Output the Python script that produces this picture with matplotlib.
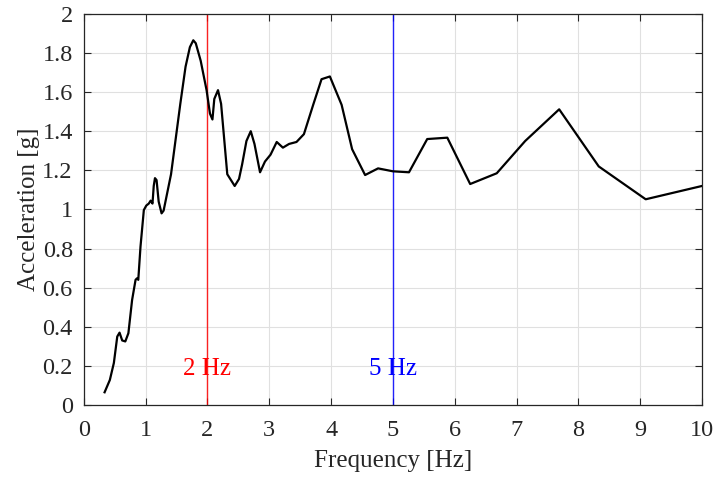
import matplotlib.pyplot as plt

plt.rcParams['font.family'] = ['Liberation Serif', 'DejaVu Serif']

freq = [0.335, 0.42, 0.485, 0.54, 0.577, 0.62, 0.67, 0.72, 0.78, 0.836, 0.86, 0.88,
        0.916, 0.97, 1.01, 1.05, 1.08, 1.11, 1.13, 1.15, 1.176, 1.21, 1.257, 1.29, 1.41,
        1.56, 1.645, 1.715, 1.77, 1.81, 1.89, 1.985, 2.04, 2.08, 2.11, 2.17, 2.22,
        2.32, 2.44, 2.51, 2.56, 2.63, 2.70, 2.76, 2.85, 2.93, 3.02, 3.12, 3.22,
        3.32, 3.44, 3.56, 3.71, 3.845, 3.98, 4.17, 4.34, 4.55, 4.76, 5.0, 5.26,
        5.555, 5.88, 6.25, 6.68, 7.14, 7.69, 8.33, 9.09, 10.0]
accel = [0.065, 0.128, 0.215, 0.35, 0.37, 0.33, 0.325, 0.367, 0.537, 0.64, 0.648, 0.64,
         0.81, 0.997, 1.02, 1.03, 1.045, 1.03, 1.12, 1.16, 1.15, 1.04, 0.98, 0.994, 1.18,
         1.54, 1.73, 1.83, 1.865, 1.85, 1.76, 1.61, 1.49, 1.46, 1.565, 1.61, 1.54,
         1.18, 1.12, 1.156, 1.23, 1.35, 1.40, 1.335, 1.19, 1.245, 1.28, 1.345, 1.316,
         1.335, 1.345, 1.385, 1.535, 1.666, 1.68, 1.535, 1.308, 1.176, 1.21, 1.195, 1.19,
         1.36, 1.367, 1.13, 1.185, 1.35, 1.512, 1.22, 1.052, 1.12]

markers = [2, 5]
marker_colors = ['#ff0000', '#0000ff']
marker_labels = ['2 Hz', '5 Hz']

fig = plt.figure(figsize=(7.17, 4.79), dpi=100)
ax = fig.add_axes([0.117, 0.1545, 0.862, 0.8165])

ax.plot(freq, accel, color='black', lw=1.6, zorder=3)
for f, c, lab in zip(markers, marker_colors, marker_labels):
    ax.axvline(f, color=c, lw=1.0, alpha=0.85, zorder=2)
    ax.text(f, 0.155, lab, color=c, fontsize=18, ha='center', va='baseline')

ax.set_xlim(0, 10)
ax.set_ylim(0, 2)
ax.set_xticks(range(0, 11))
ax.set_yticks([i * 0.2 for i in range(11)])
ax.set_yticklabels(['0', '0.2', '0.4', '0.6', '0.8', '1', '1.2', '1.4', '1.6', '1.8', '2'])
ax.grid(True, color='#e0e0e0', lw=0.8)
ax.set_axisbelow(True)
ax.tick_params(direction='in', top=True, right=True, length=5, labelsize=17.5,
               colors='#262626', labelcolor='#262626')
ax.tick_params(axis='x', pad=11)
ax.tick_params(axis='y', pad=8)
for s in ax.spines.values():
    s.set_color('#262626')
    s.set_linewidth(0.9)
ax.set_xlabel('Frequency [Hz]', fontsize=18, color='#262626', labelpad=6)
ax.set_ylabel('Acceleration [g]', fontsize=18, color='#262626', labelpad=2)

fig.savefig('out.png', dpi=100)
